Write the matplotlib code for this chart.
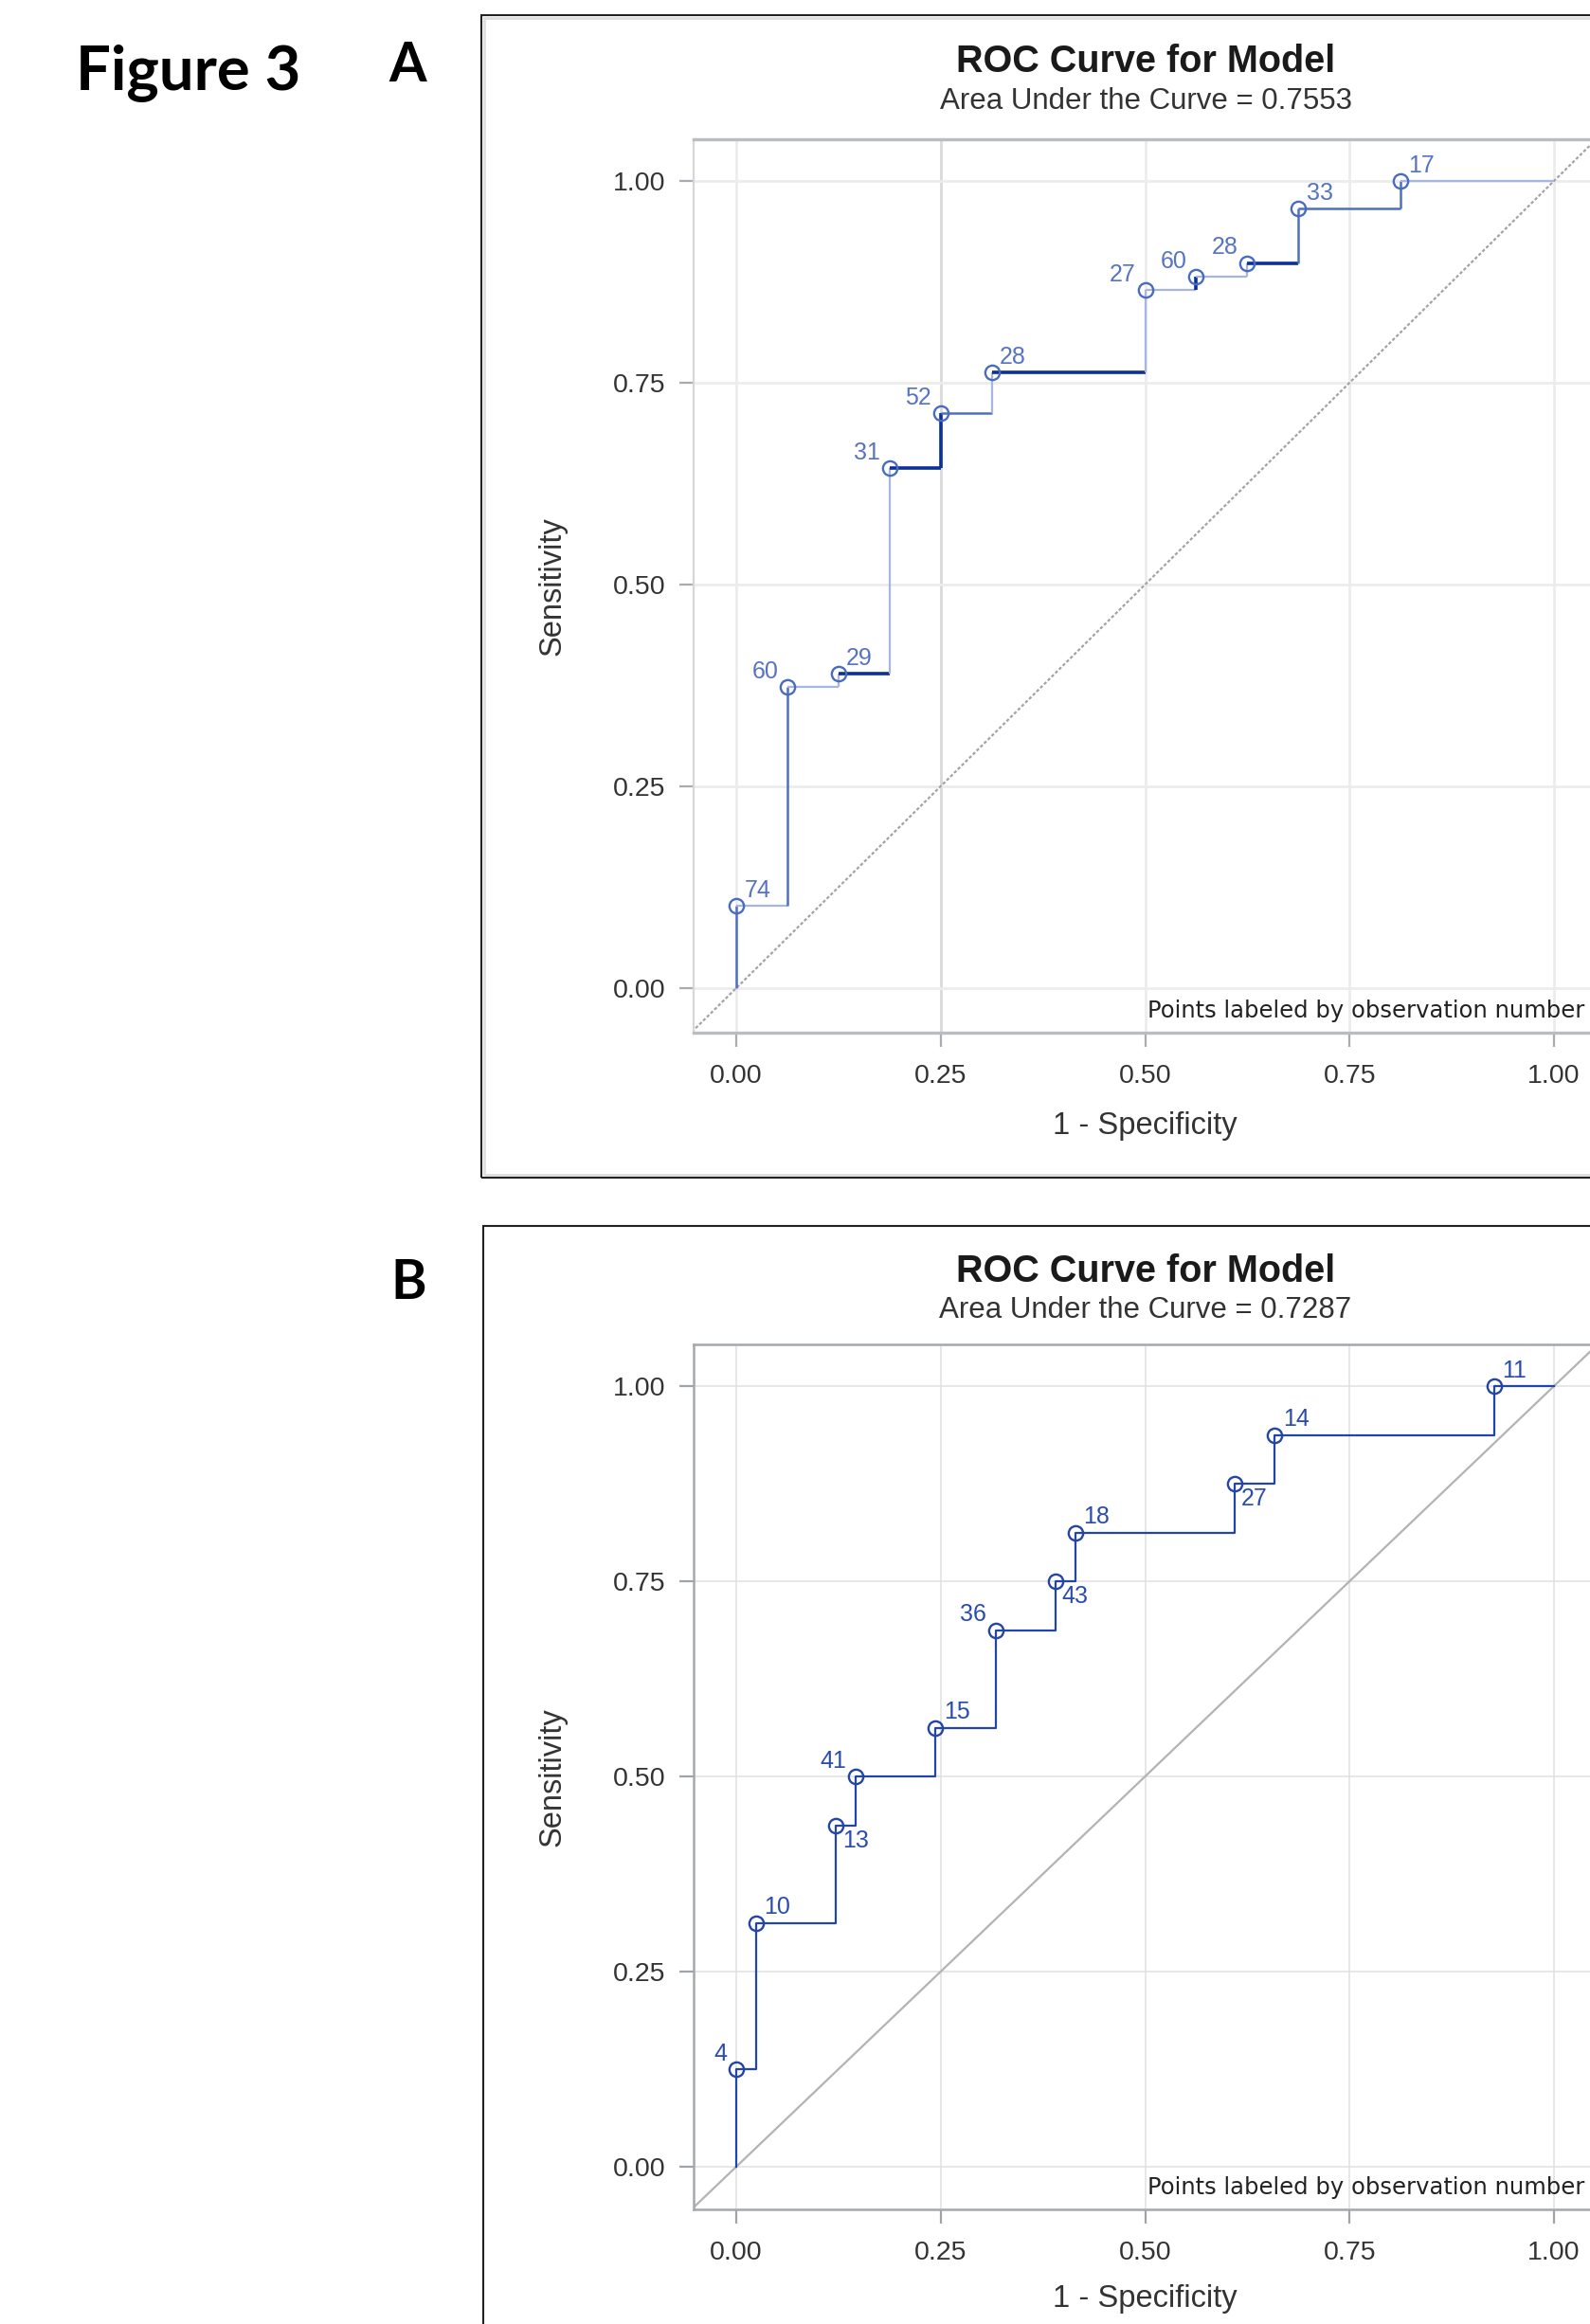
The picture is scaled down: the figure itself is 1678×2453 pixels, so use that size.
import matplotlib
matplotlib.use("Agg")
import matplotlib.pyplot as plt
from matplotlib.collections import LineCollection
from matplotlib.patches import Rectangle

plt.rcParams['font.family'] = ['Liberation Sans', 'DejaVu Sans']

# panel A data (1 - specificity, sensitivity, observation number)
a_fpr = [0.0, 0.0625, 0.125, 0.1875, 0.25, 0.3125, 0.5, 0.5625, 0.625, 0.6875, 0.8125]
a_tpr = [0.1017, 0.3729, 0.3898, 0.6441, 0.7119, 0.7627, 0.8644, 0.8814, 0.8983, 0.9661, 1.0]
a_obs = [74, 60, 29, 31, 52, 28, 27, 60, 28, 33, 17]
a_auc = "0.7553"

# panel B data
b_fpr = [0.0, 0.0244, 0.1220, 0.1463, 0.2439, 0.3171, 0.3902, 0.4146, 0.6098, 0.6585, 0.9268]
b_tpr = [0.125, 0.3125, 0.4375, 0.5, 0.5625, 0.6875, 0.75, 0.8125, 0.875, 0.9375, 1.0]
b_obs = [4, 10, 13, 41, 15, 36, 43, 18, 27, 14, 11]
b_auc = "0.7287"

ticks = [0.0, 0.25, 0.5, 0.75, 1.0]
tick_labels = ["0.00", "0.25", "0.50", "0.75", "1.00"]

# where each point label sits
a_lab_pos = ['ur', 'ul', 'ur', 'ul', 'ul', 'ur', 'ul', 'ul', 'ul', 'ur', 'ur']
b_lab_pos = ['ul', 'ur', 'lr', 'ul', 'ur', 'ul', 'lr', 'ur', 'lr', 'ur', 'ur']
# shade of each step segment in panel A (d=dark, m=medium, l=light)
a_seg_shade = ['m', 'l', 'm', 'l', 'l', 'd', 'l', 'd', 'd', 'm', 'l',
               'd', 'l', 'l', 'd', 'l', 'l', 'd', 'm', 'm', 'm', 'l']
shade_col = {'d': '#0b3097', 'm': '#4d70c2', 'l': '#a6b6de'}
shade_lw = {'d': 2.6, 'm': 1.8, 'l': 1.6}

W, H = 1678, 2453
fig = plt.figure(figsize=(W / 100, H / 100), dpi=100)


def step_segments(fpr, tpr):
    segs = []
    px, py = 0.0, 0.0
    for x, y in zip(fpr + [1.0], tpr + [1.0]):
        if x != px:
            segs.append([(px, py), (x, py)])
        if y != py:
            segs.append([(x, py), (x, y)])
        px, py = x, y
    return segs


def label_points(ax, fpr, tpr, obs, pos, color):
    offs = {'ur': ((6, 3), 'left', 'bottom'),
            'ul': ((-7, 3), 'right', 'bottom'),
            'lr': ((5, -3), 'left', 'top')}
    for x, y, n, p in zip(fpr, tpr, obs, pos):
        off, ha, va = offs[p]
        ax.annotate(str(n), (x, y), xytext=off, textcoords='offset points',
                    ha=ha, va=va, fontsize=18, color=color)


def setup_axes(top_px, bottom_px, ylo, yhi, spine_col, grid_col, grid_lw, tick_col):
    ax = fig.add_axes([732 / W, 1 - bottom_px / H, 953 / W, (bottom_px - top_px) / H])
    ax.set_xlim(-0.0521, 1.0521)
    ax.set_ylim(ylo, yhi)
    ax.set_xticks(ticks)
    ax.set_xticklabels(tick_labels)
    ax.set_yticks(ticks)
    ax.set_yticklabels(tick_labels)
    ax.grid(True, color=grid_col, lw=grid_lw)
    ax.set_axisbelow(True)
    ax.tick_params(axis='both', length=11, width=1.6, color=tick_col,
                   labelsize=20.5, labelcolor='#333333')
    ax.tick_params(axis='x', pad=13)
    ax.tick_params(axis='y', pad=10)
    for s in ax.spines.values():
        s.set_color(spine_col)
    ax.spines['right'].set_visible(False)
    ax.set_xlabel("1 - Specificity", fontsize=23.5, color='#333333')
    ax.xaxis.set_label_coords(0.5, -0.104)
    ax.xaxis.label.set_va('center')
    ax.set_ylabel("Sensitivity", fontsize=23.5, color='#333333')
    ax.yaxis.set_label_coords(-0.156, 0.5)
    ax.yaxis.label.set_va('center')
    ax.text(0.987, 0.017, "Points labeled by observation number", transform=ax.transAxes,
            ha='right', va='baseline', fontsize=17.5, color='#222222', family=['DejaVu Sans'])
    return ax


# ---------- panel A ----------
fig.add_artist(Rectangle((508 / W, 1 - 1243 / H), (1720 - 508) / W, (1243 - 16) / H,
                         transform=fig.transFigure, fill=False, ec='#222222', lw=1.5))
fig.add_artist(Rectangle((511 / W, 1 - 1240 / H), (1720 - 511) / W, (1240 - 19) / H,
                         transform=fig.transFigure, fill=False, ec='#dedede', lw=2.0))
fig.text(1209 / W, 1 - 65 / H, "ROC Curve for Model", ha='center', va='center',
         fontsize=28.5, fontweight='bold', color='#1a1a1a')
fig.text(1209 / W, 1 - 107 / H, "Area Under the Curve = " + a_auc, ha='center', va='center',
         fontsize=22.5, color='#333333')

axA = setup_axes(147, 1090, -0.0552, 1.0516, '#b9bdc1', '#ececec', 2.0, '#a8acb0')
axA.spines['top'].set_linewidth(2.4)
axA.spines['bottom'].set_linewidth(2.4)
axA.spines['left'].set_color('#d6d6d6')
axA.spines['left'].set_linewidth(1.6)
axA.get_xgridlines()[1].set_color('#d9d9d9')
axA.plot([-0.1, 1.1], [-0.1, 1.1], color='#a3a3a3', lw=1.6, ls=(0, (1.5, 1.0)), zorder=1)
segsA = step_segments(a_fpr, a_tpr)
axA.add_collection(LineCollection(segsA, colors=[shade_col[s] for s in a_seg_shade],
                                  linewidths=[shade_lw[s] for s in a_seg_shade], zorder=2))
axA.plot(a_fpr, a_tpr, 'o', ms=11, mfc='none', mec='#4a6cc0', mew=1.7, zorder=3)
label_points(axA, a_fpr, a_tpr, a_obs, a_lab_pos, '#5673c4')

# ---------- panel B ----------
fig.add_artist(Rectangle((510 / W, 1 - 2500 / H), (1720 - 510) / W, (2500 - 1294) / H,
                         transform=fig.transFigure, fill=False, ec='#222222', lw=1.5))
fig.text(1209 / W, 1 - 1342 / H, "ROC Curve for Model", ha='center', va='center',
         fontsize=28.5, fontweight='bold', color='#1a1a1a')
fig.text(1209 / W, 1 - 1383 / H, "Area Under the Curve = " + b_auc, ha='center', va='center',
         fontsize=22.5, color='#333333')

axB = setup_axes(1419, 2332, -0.0546, 1.0534, '#a5a9ad', '#e3e3e3', 1.2, '#a0a4a8')
for s in ['top', 'bottom', 'left']:
    axB.spines[s].set_linewidth(1.8)
axB.plot([-0.1, 1.1], [-0.1, 1.1], color='#b3b3b3', lw=1.6, zorder=1)
axB.step([0.0] + b_fpr + [1.0], [0.0] + b_tpr + [1.0], where='post',
         color='#2445a8', lw=1.6, zorder=2)
axB.plot(b_fpr, b_tpr, 'o', ms=11, mfc='none', mec='#2445a8', mew=1.7, zorder=3)
label_points(axB, b_fpr, b_tpr, b_obs, b_lab_pos, '#2a4cb0')

# figure labels
fig.text(80 / W, 1 - 95 / H, "Figure 3", ha='left', va='baseline', fontsize=47,
         fontweight='bold', family=['Lato', 'DejaVu Sans'])
fig.text(410 / W, 1 - 86 / H, "A", ha='left', va='baseline', fontsize=41,
         fontweight='bold', family=['Lato', 'DejaVu Sans'])
fig.text(412 / W, 1 - 1371 / H, "B", ha='left', va='baseline', fontsize=41,
         fontweight='bold', family=['Lato', 'DejaVu Sans'])

fig.savefig("out.png", dpi=100)
